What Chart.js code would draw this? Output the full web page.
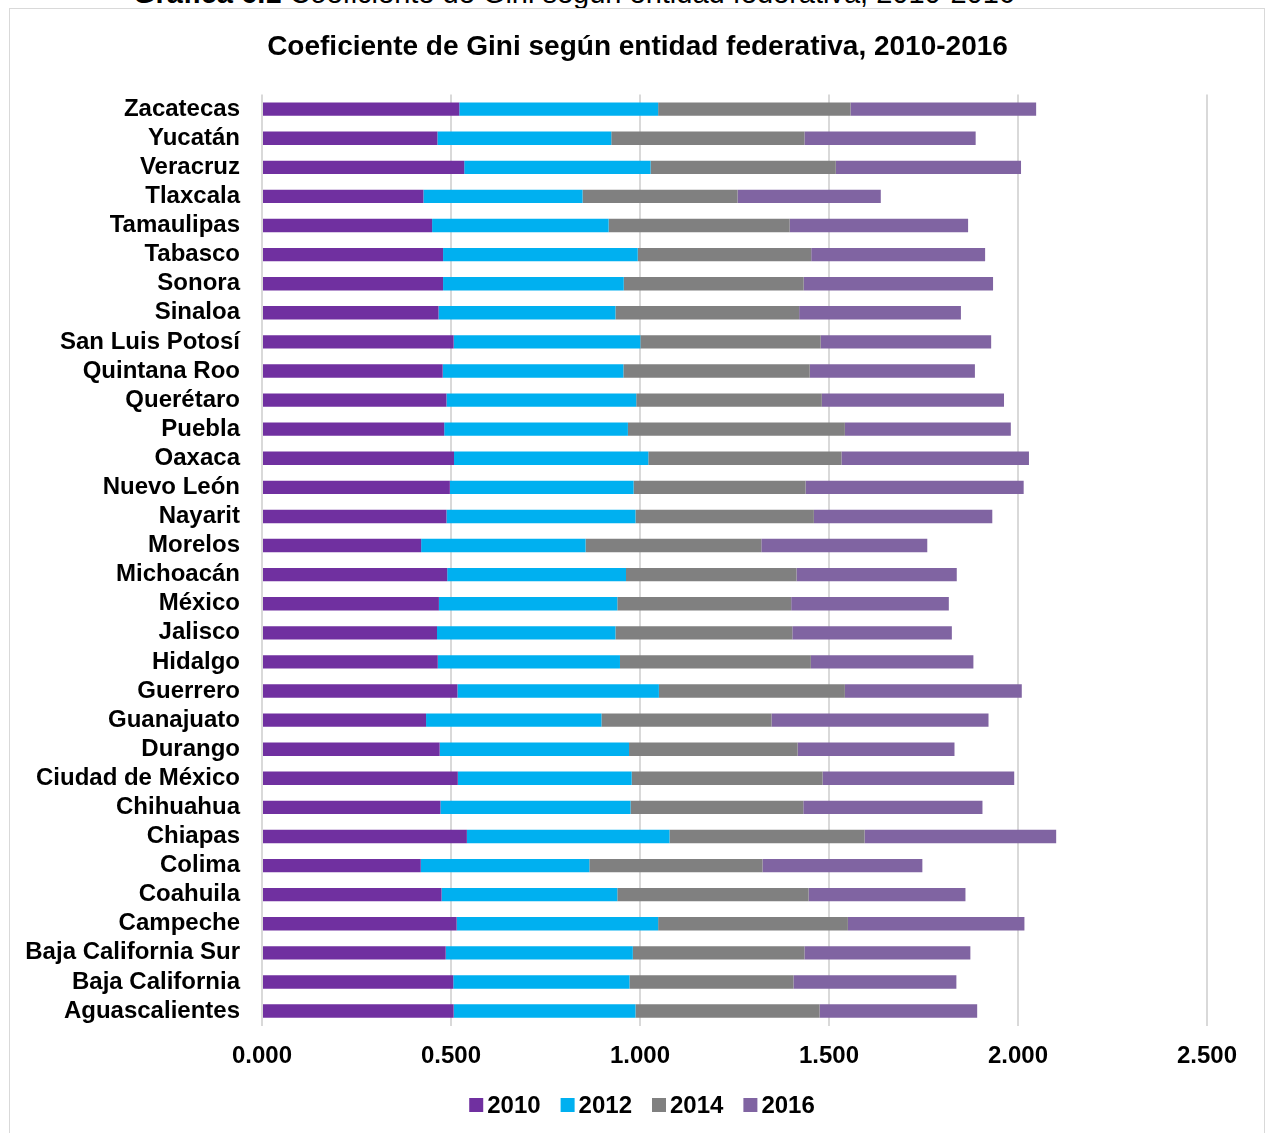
<!DOCTYPE html>
<html lang="es">
<head>
<meta charset="utf-8">
<title>Coeficiente de Gini según entidad federativa, 2010-2016</title>
<script src="https://cdn.jsdelivr.net/npm/chart.js@4.4.1/dist/chart.umd.min.js"></script>
<style>
  html, body { margin: 0; padding: 0; background: #fff; overflow: hidden; }
  body { width: 1269px; height: 1133px; position: relative; font-family: "Liberation Sans", Arial, sans-serif; }
  #caption { position: absolute; left: 133px; top: -21px; font-size: 29px; line-height: 29px; white-space: nowrap; color: #000; }
  #frame { position: absolute; left: 9px; top: 8px; width: 1254px; height: 1140px; border: 1px solid #d9d9d9; }
  #chart { position: absolute; left: 0; top: 0; }
</style>
</head>
<body>
<div id="caption"><b>Gráfica 6.1</b> Coeficiente de Gini según entidad federativa, 2010-2016</div>
<div id="frame"></div>
<canvas id="chart" width="1269" height="1133"></canvas>
<script>
// Entidades federativas (de abajo hacia arriba en la gráfica)
const entidades = [
  'Aguascalientes', 'Baja California', 'Baja California Sur', 'Campeche', 'Coahuila',
  'Colima', 'Chiapas', 'Chihuahua', 'Ciudad de México', 'Durango', 'Guanajuato',
  'Guerrero', 'Hidalgo', 'Jalisco', 'México', 'Michoacán', 'Morelos', 'Nayarit',
  'Nuevo León', 'Oaxaca', 'Puebla', 'Querétaro', 'Quintana Roo', 'San Luis Potosí',
  'Sinaloa', 'Sonora', 'Tabasco', 'Tamaulipas', 'Tlaxcala', 'Veracruz', 'Yucatán', 'Zacatecas'
];

const gini2010 = [0.507, 0.506, 0.486, 0.515, 0.475, 0.420, 0.542, 0.472, 0.518, 0.470, 0.434,
                  0.517, 0.465, 0.463, 0.468, 0.490, 0.421, 0.488, 0.497, 0.508, 0.482, 0.488,
                  0.478, 0.507, 0.467, 0.479, 0.479, 0.450, 0.427, 0.535, 0.464, 0.522];
const gini2012 = [0.481, 0.466, 0.495, 0.533, 0.465, 0.446, 0.536, 0.503, 0.460, 0.501, 0.464,
                  0.533, 0.482, 0.472, 0.472, 0.473, 0.435, 0.500, 0.486, 0.514, 0.486, 0.502,
                  0.478, 0.494, 0.468, 0.478, 0.515, 0.467, 0.421, 0.493, 0.460, 0.526];
const gini2014 = [0.487, 0.434, 0.454, 0.502, 0.506, 0.458, 0.516, 0.457, 0.505, 0.446, 0.450,
                  0.492, 0.505, 0.468, 0.460, 0.451, 0.465, 0.472, 0.455, 0.511, 0.574, 0.491,
                  0.493, 0.477, 0.486, 0.476, 0.459, 0.479, 0.410, 0.490, 0.511, 0.509];
const gini2016 = [0.417, 0.431, 0.439, 0.467, 0.415, 0.423, 0.507, 0.474, 0.507, 0.415, 0.574,
                  0.468, 0.430, 0.422, 0.417, 0.424, 0.439, 0.472, 0.577, 0.496, 0.439, 0.482,
                  0.437, 0.451, 0.428, 0.501, 0.460, 0.472, 0.379, 0.490, 0.453, 0.491];

const years = ['2010', '2012', '2014', '2016'];
const xTickValues = [0, 0.5, 1.0, 1.5, 2.0, 2.5];

const FONT = '"Liberation Sans", Arial, sans-serif';
const colors = ['#7030a0', '#00b0f0', '#808080', '#8064a2'];
const series = [gini2010, gini2012, gini2014, gini2016];

// Leyenda inferior: cuadro pequeño pegado al texto
const bottomLegend = {
  id: 'bottomLegend',
  afterDraw(chart) {
    const ctx = chart.ctx;
    ctx.save();
    ctx.font = 'bold 24px ' + FONT;
    const box = 14, gap = 4, spacing = 20;
    const items = chart.data.datasets.map(d => ({
      text: d.label, color: d.backgroundColor, w: ctx.measureText(d.label).width
    }));
    const total = items.reduce((s, it) => s + box + gap + it.w, 0) + spacing * (items.length - 1);
    let x = 642 - total / 2;
    const yc = chart.height - 28;
    ctx.textBaseline = 'middle';
    ctx.textAlign = 'left';
    items.forEach(it => {
      ctx.fillStyle = it.color;
      ctx.fillRect(x, yc - 7, box, box);
      ctx.fillStyle = '#000';
      ctx.fillText(it.text, x + box + gap, yc + 1);
      x += box + gap + it.w + spacing;
    });
    ctx.restore();
  }
};

new Chart(document.getElementById('chart'), {
  type: 'bar',
  data: {
    labels: entidades,
    datasets: years.map((y, i) => ({
      label: y,
      data: series[i],
      backgroundColor: colors[i],
      borderWidth: 0,
      barPercentage: 0.46,
      categoryPercentage: 1
    }))
  },
  options: {
    indexAxis: 'y',
    responsive: false,
    animation: false,
    devicePixelRatio: 1,
    layout: { padding: { left: 11, right: 5, top: 9, bottom: 50 } },
    plugins: {
      legend: { display: false },
      tooltip: { enabled: false },
      title: {
        display: true,
        text: 'Coeficiente de Gini según entidad federativa, 2010-2016',
        color: '#000',
        font: { family: FONT, size: 28, weight: 'bold' },
        padding: { top: 21, bottom: 31 }
      }
    },
    scales: {
      x: {
        stacked: true,
        min: 0,
        max: 2.5,
        afterBuildTicks: s => { s.ticks = xTickValues.map(v => ({ value: v })); },
        ticks: {
          callback: v => Number(v).toFixed(3),
          color: '#000',
          font: { family: FONT, size: 24, weight: 'bold' },
          padding: 16,
          maxRotation: 0,
          autoSkip: false
        },
        grid: { color: '#d9d9d9', lineWidth: 2, drawTicks: false },
        border: { display: false },
        afterFit: s => { s.height = 57.4; s.paddingRight = 62; }
      },
      y: {
        stacked: true,
        reverse: true,
        ticks: {
          autoSkip: false,
          color: '#000',
          font: { family: FONT, size: 24, weight: 'bold' },
          padding: 22
        },
        grid: { display: false, drawTicks: false },
        border: { display: false },
        afterFit: s => { s.width = 251; }
      }
    }
  },
  plugins: [bottomLegend]
});
</script>
</body>
</html>
